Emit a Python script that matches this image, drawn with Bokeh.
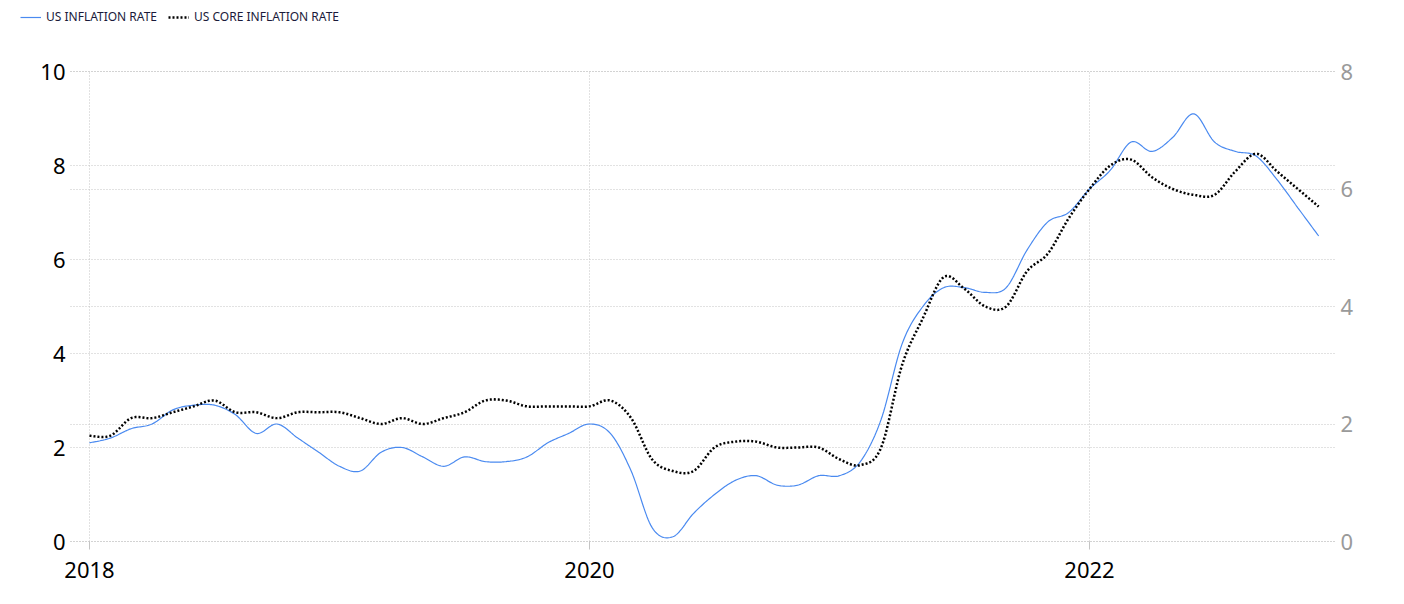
import numpy as np
from bokeh.plotting import figure
from bokeh.models import (Range1d, LinearAxis, FixedTicker, Grid, Legend,
                          LegendItem)
from bokeh.embed import file_html
from bokeh.resources import INLINE

# ---------------- data ----------------
years = [2018, 2019, 2020, 2021, 2022]
months = [f"{y}-{m:02d}" for y in years for m in range(1, 13)]

us_inflation_rate = [
    2.1, 2.2, 2.4, 2.5, 2.8, 2.9, 2.9, 2.7, 2.3, 2.5, 2.2, 1.9,   # 2018
    1.6, 1.5, 1.9, 2.0, 1.8, 1.6, 1.8, 1.7, 1.7, 1.8, 2.1, 2.3,   # 2019
    2.5, 2.3, 1.5, 0.3, 0.1, 0.6, 1.0, 1.3, 1.4, 1.2, 1.2, 1.4,   # 2020
    1.4, 1.7, 2.6, 4.2, 5.0, 5.4, 5.4, 5.3, 5.4, 6.2, 6.8, 7.0,   # 2021
    7.5, 7.9, 8.5, 8.3, 8.6, 9.1, 8.5, 8.3, 8.2, 7.7, 7.1, 6.5,   # 2022
]
us_core_inflation_rate = [
    1.8, 1.8, 2.1, 2.1, 2.2, 2.3, 2.4, 2.2, 2.2, 2.1, 2.2, 2.2,   # 2018
    2.2, 2.1, 2.0, 2.1, 2.0, 2.1, 2.2, 2.4, 2.4, 2.3, 2.3, 2.3,   # 2019
    2.3, 2.4, 2.1, 1.4, 1.2, 1.2, 1.6, 1.7, 1.7, 1.6, 1.6, 1.6,   # 2020
    1.4, 1.3, 1.6, 3.0, 3.8, 4.5, 4.3, 4.0, 4.0, 4.6, 4.9, 5.5,   # 2021
    6.0, 6.4, 6.5, 6.2, 6.0, 5.9, 5.9, 6.3, 6.6, 6.3, 6.0, 5.7,   # 2022
]
x_tick_labels = ["2018", "2020", "2022"]
left_ticks = [0, 2, 4, 6, 8, 10]
right_ticks = [0, 2, 4, 6, 8]
left_max = 10
right_max = 8
series_names = ["US INFLATION RATE", "US CORE INFLATION RATE"]

# ---------------- helpers ----------------
def smooth(xs, ys, n=16):
    """Catmull-Rom spline through the data points (rendering only)."""
    xs = np.asarray(xs, float)
    ys = np.asarray(ys, float)
    N = len(xs)
    ox, oy = [], []
    t = np.linspace(0, 1, n, endpoint=False)
    for i in range(N - 1):
        i0 = max(i - 1, 0)
        i3 = min(i + 2, N - 1)
        for arr, out in ((xs, ox), (ys, oy)):
            p0, p1, p2, p3 = arr[i0], arr[i], arr[i + 1], arr[i3]
            out.extend(0.5 * (2 * p1 + (-p0 + p2) * t
                              + (2 * p0 - 5 * p1 + 4 * p2 - p3) * t ** 2
                              + (-p0 + 3 * p1 - 3 * p2 + p3) * t ** 3))
    ox.append(xs[-1])
    oy.append(ys[-1])
    return ox, oy

x_idx = list(range(len(months)))
tick_pos = [months.index(f"{lab}-01") for lab in x_tick_labels]

FONT = "Noto Sans"
GRID_COLOR = "#c4c4c4"
BLUE = "#4a8af0"
W, H = 1400, 600

# geometry (pixels): plot body from x=70 to 1335, y=71 (top value) to 541 (zero)
PX_PER_MONTH = 1000 / 48.0
PX_PER_UNIT = 470 / left_max
x_body_start = -19 / PX_PER_MONTH
x_start = -89 / PX_PER_MONTH
x_end = 48 + (1335 - 1089) / PX_PER_MONTH
y_top = 541 / PX_PER_UNIT
y_bottom = -(H - 541) / PX_PER_UNIT
scale_r = right_max / left_max

p = figure(width=W, height=H, output_backend="svg", toolbar_location=None,
           x_range=Range1d(x_start, x_end), y_range=Range1d(y_bottom, y_top),
           x_axis_location=None, y_axis_location=None,
           min_border_left=0, min_border_right=W - 1335, min_border_top=0,
           min_border_bottom=0)
p.outline_line_color = None
p.extra_y_ranges = {"right": Range1d(y_bottom * scale_r, y_top * scale_r)}
# drop default grids; custom ones are added below
p.center = [r for r in p.center if not isinstance(r, Grid)]

# x axis, fixed at zero
xa = LinearAxis(ticker=FixedTicker(ticks=tick_pos, minor_ticks=[]), fixed_location=0)
xa.major_label_overrides = {pos: lab for pos, lab in zip(tick_pos, x_tick_labels)}
xa.axis_line_color = None
xa.major_tick_in = 0
xa.major_tick_out = 8
xa.major_tick_line_color = GRID_COLOR
xa.minor_tick_line_color = None
xa.major_label_text_font = FONT
xa.major_label_text_font_size = "22px"
xa.major_label_text_color = "#000000"
xa.major_label_standoff = 12
p.add_layout(xa, "below")

# left y axis, fixed at the start of the plot body
ya = LinearAxis(ticker=FixedTicker(ticks=left_ticks, minor_ticks=[]),
                fixed_location=x_body_start)
ya.axis_line_color = None
ya.major_tick_line_color = None
ya.minor_tick_line_color = None
ya.major_tick_in = 0
ya.major_tick_out = 0
ya.major_label_text_font = FONT
ya.major_label_text_font_size = "22px"
ya.major_label_text_color = "#000000"
ya.major_label_standoff = 5
p.add_layout(ya, "left")

# right y axis
ra = LinearAxis(y_range_name="right", ticker=FixedTicker(ticks=right_ticks, minor_ticks=[]))
ra.axis_line_color = None
ra.major_tick_line_color = None
ra.minor_tick_line_color = None
ra.major_tick_in = 0
ra.major_tick_out = 0
ra.major_label_text_font = FONT
ra.major_label_text_font_size = "22px"
ra.major_label_text_color = "#9a9a9a"
ra.major_label_standoff = 5
p.add_layout(ra, "right")

# grids
xgrid = Grid(dimension=0, ticker=FixedTicker(ticks=tick_pos), cross_bounds=(0, left_max))
lgrid = Grid(dimension=1, ticker=FixedTicker(ticks=left_ticks),
             cross_bounds=(x_body_start, x_end))
rgrid = Grid(dimension=1, ticker=FixedTicker(ticks=right_ticks), y_range_name="right",
             cross_bounds=(x_body_start, x_end))
for g in (xgrid, lgrid, rgrid):
    g.grid_line_color = GRID_COLOR
    g.grid_line_dash = "1 2"
    g.grid_line_width = 1
    p.add_layout(g)

# lines
sx, sy = smooth(x_idx, us_inflation_rate)
r1 = p.line(sx, sy, line_color=BLUE, line_width=1.2)
cx, cy = smooth(x_idx, us_core_inflation_rate)
r2 = p.line(cx, cy, line_color="#000000", line_width=2.5, line_dash="2 2",
            y_range_name="right")

legend = Legend(items=[LegendItem(label=series_names[0], renderers=[r1]),
                       LegendItem(label=series_names[1], renderers=[r2])],
                orientation="horizontal", location=(20, H - 25),
                padding=0, margin=0, spacing=11, label_standoff=5,
                glyph_width=21, glyph_height=12, label_height=12,
                label_text_font=FONT, label_text_font_size="12px",
                label_text_color="#1a1a3a",
                border_line_color=None, background_fill_alpha=0)
p.add_layout(legend)

open("out.html", "w").write(file_html(p, INLINE))
